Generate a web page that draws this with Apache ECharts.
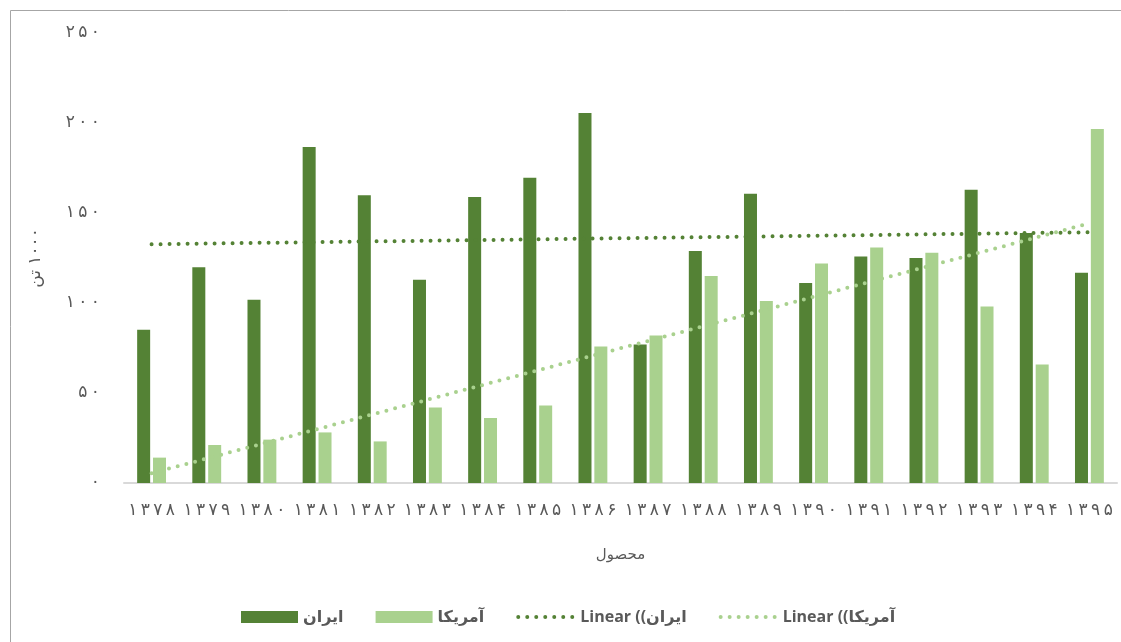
<!DOCTYPE html>
<html lang="fa">
<head>
<meta charset="UTF-8">
<title>ایران و آمریکا</title>
<script src="https://cdn.jsdelivr.net/npm/echarts@6.0.0/dist/echarts.min.js"></script>
<style>
    body { margin: 0; padding: 0; overflow: hidden; background: #fff; }
    #chart { width: 1121px; height: 642px; }
</style>
</head>
<body>
<div id="chart"></div>
<script>
// years (Persian digits)
const years = ['۱۳۷۸','۱۳۷۹','۱۳۸۰','۱۳۸۱','۱۳۸۲','۱۳۸۳','۱۳۸۴','۱۳۸۵','۱۳۸۶',
    '۱۳۸۷','۱۳۸۸','۱۳۸۹','۱۳۹۰','۱۳۹۱','۱۳۹۲','۱۳۹۳','۱۳۹۴','۱۳۹۵'];
// values in 1000 t
const iran = [85.2, 119.8, 101.8, 186.7, 159.8, 112.9, 158.9, 169.6, 205.6,
    77.0, 128.9, 160.7, 111.1, 125.9, 125.0, 162.9, 138.9, 116.8];
const usa = [14.1, 21.1, 24.1, 28.1, 23.1, 42.0, 36.1, 43.1, 75.9,
    82.0, 115.0, 101.1, 122.0, 130.9, 127.9, 98.1, 65.9, 196.7];
// RLE/PDF so the labels come out the way the rtl spreadsheet shows them
const names = ['ایران', 'آمریکا', 'Linear (\u202Bایران)\u202C', 'Linear (\u202Bآمریکا)\u202C'];
const yName = '\u202B۱۰۰۰ تن\u202C';
const colors = ['#548235', '#A9D18E'];

const faDigits = '۰۱۲۳۴۵۶۷۸۹';
const toFa = v => String(v).replace(/\d/g, d => faDigits[d]);
const spaced = s => s.split('').join('\u2009');

// least squares trend, same as the spreadsheet's linear trendline
function linear(arr) {
    let n = arr.length, sx = 0, sy = 0, sxy = 0, sxx = 0;
    arr.forEach((y, i) => { let x = i + 1; sx += x; sy += y; sxy += x * y; sxx += x * x; });
    let b = (n * sxy - sx * sy) / (n * sxx - sx * sx);
    let a = (sy - b * sx) / n;
    return arr.map((_, i) => +(a + b * (i + 1)).toFixed(2));
}

const faFont = '"DejaVu Sans", "Noto Sans", sans-serif';
const dotted = c => ({ color: c, width: 4, type: [0, 9], cap: 'round' });

let ec = echarts.init(document.getElementById('chart'));
ec.setOption({
    animation: false,
    color: colors,
    graphic: [{
        type: 'rect',
        shape: { x: 10.5, y: 10.5, width: 1200, height: 700 },
        style: { fill: 'none', stroke: '#a6a6a6', lineWidth: 1 },
        silent: true
    }],
    grid: { left: 124, right: 4, top: 33, bottom: 159, containLabel: false, outerBoundsMode: 'none' },
    legend: {
        left: 236,
        top: 604,
        itemWidth: 57,
        itemHeight: 12,
        itemGap: 32,
        data: [
            { name: names[0], icon: 'rect' },
            { name: names[1], icon: 'rect' },
            { name: names[2], itemStyle: { opacity: 0 }, lineStyle: dotted(colors[0]) },
            { name: names[3], itemStyle: { opacity: 0 }, lineStyle: dotted(colors[1]) }
        ],
        textStyle: { color: '#595959', fontSize: 16, fontWeight: 'bold', fontFamily: '"Open Sans", "DejaVu Sans", sans-serif' }
    },
    xAxis: {
        type: 'category',
        data: years,
        name: 'محصول',
        nameLocation: 'middle',
        nameGap: 65,
        nameTextStyle: { color: '#595959', fontSize: 15, fontFamily: faFont },
        axisLine: { lineStyle: { color: '#d9d9d9', width: 2 } },
        axisTick: { show: false },
        axisLabel: { color: '#595959', fontSize: 17, margin: 19, fontFamily: faFont, interval: 0, formatter: spaced }
    },
    yAxis: {
        type: 'value',
        min: 0,
        max: 250,
        interval: 50,
        name: yName,
        nameLocation: 'middle',
        nameRotate: 90,
        nameGap: 80,
        nameTextStyle: { color: '#595959', fontSize: 17, fontFamily: faFont },
        splitLine: { show: false },
        axisLine: { show: false },
        axisTick: { show: false },
        axisLabel: { color: '#595959', fontSize: 17, margin: 24, fontFamily: faFont, formatter: v => spaced(toFa(v)) }
    },
    series: [
        { name: names[0], type: 'bar', data: iran, barWidth: 13, barGap: '22%',
          itemStyle: { color: colors[0] } },
        { name: names[1], type: 'bar', data: usa, barWidth: 13,
          itemStyle: { color: colors[1] } },
        { name: names[2], type: 'line', data: linear(iran), symbol: 'none', z: 5,
          itemStyle: { color: colors[0] }, lineStyle: dotted(colors[0]) },
        { name: names[3], type: 'line', data: linear(usa), symbol: 'none', z: 5,
          itemStyle: { color: colors[1] }, lineStyle: dotted(colors[1]) }
    ]
});
</script>
</body>
</html>
